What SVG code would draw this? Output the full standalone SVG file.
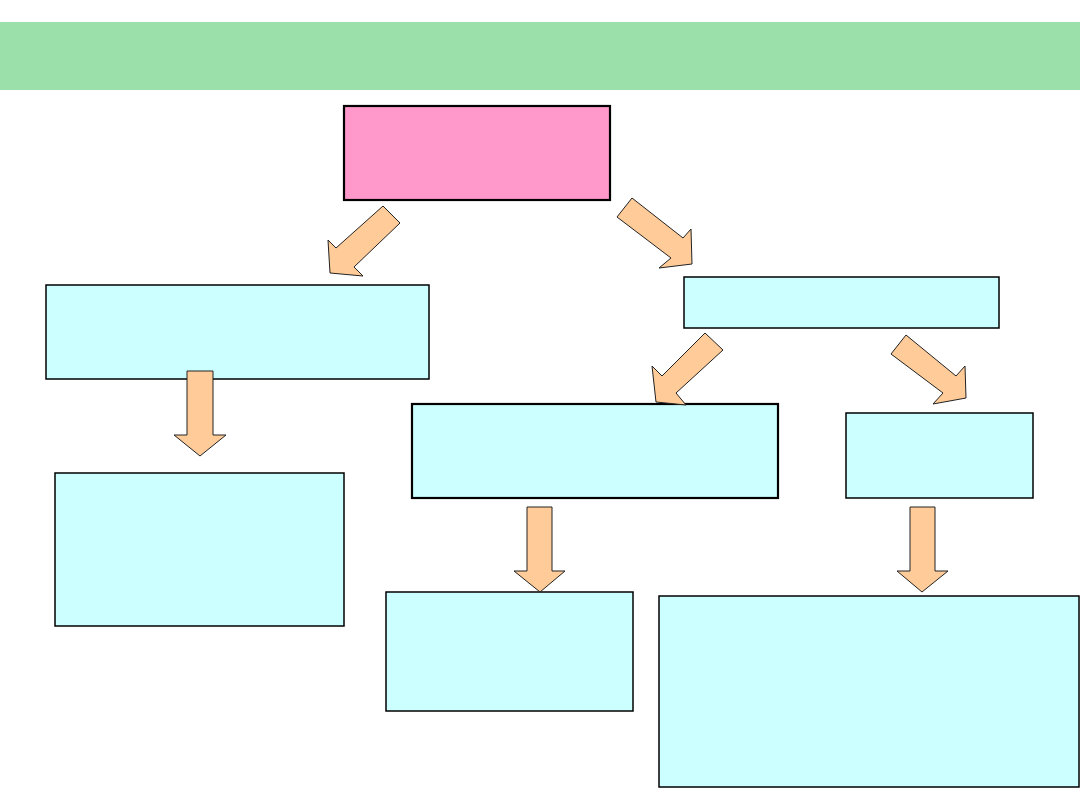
<svg xmlns="http://www.w3.org/2000/svg" width="1080" height="810" viewBox="0 0 1080 810">
<style>
.box{fill:#CCFFFF;stroke:#000;stroke-width:1.5}
.thick{stroke-width:2.2}
.arr{fill:#FFCC99;stroke:#222;stroke-width:1;stroke-linejoin:miter}
</style>
<rect width="1080" height="810" fill="#fff"/>
<g id="header"><rect x="0" y="22" width="1080" height="68" fill="#9BDFAA"/></g>
<g id="root"><rect x="344" y="106" width="266" height="94" fill="#FF99CC" stroke="#000" stroke-width="2.2"/></g>
<g id="left1"><rect class="box" x="46" y="285" width="383" height="94"/></g>
<g id="left2"><rect class="box" x="55" y="473" width="289" height="153"/></g>
<g id="right1"><rect class="box" x="684" y="277" width="315" height="51"/></g>
<g id="mid1"><rect class="box thick" x="412" y="404" width="366" height="94"/></g>
<g id="right2"><rect class="box" x="846" y="413" width="187" height="85"/></g>
<g id="mid2"><rect class="box" x="386" y="592" width="247" height="119"/></g>
<g id="right3"><rect class="box" x="659" y="596" width="420" height="191"/></g>
<g id="connectors">
<polygon class="arr" points="383,206 400,223 354,267 363,276 330,273 328,240 336,248"/>
<polygon class="arr" points="632,198 683,238 691,229 692,264 659,268 671,258 617,217"/>
<polygon class="arr" points="187,371 213,371 213,435 226,435 200,456 174,435 187,435"/>
<polygon class="arr" points="705,333 723,350 676,393 686,405 656,402 652,366 662,376"/>
<polygon class="arr" points="906,335 956,376 965,366 966,398 933,404 943,393 891,354"/>
<polygon class="arr" points="527,507 552,507 552,571 565,571 540,592 514,571 527,571"/>
<polygon class="arr" points="910,507 935,507 935,571 948,571 922,592 897,571 910,571"/>
</g>
</svg>
